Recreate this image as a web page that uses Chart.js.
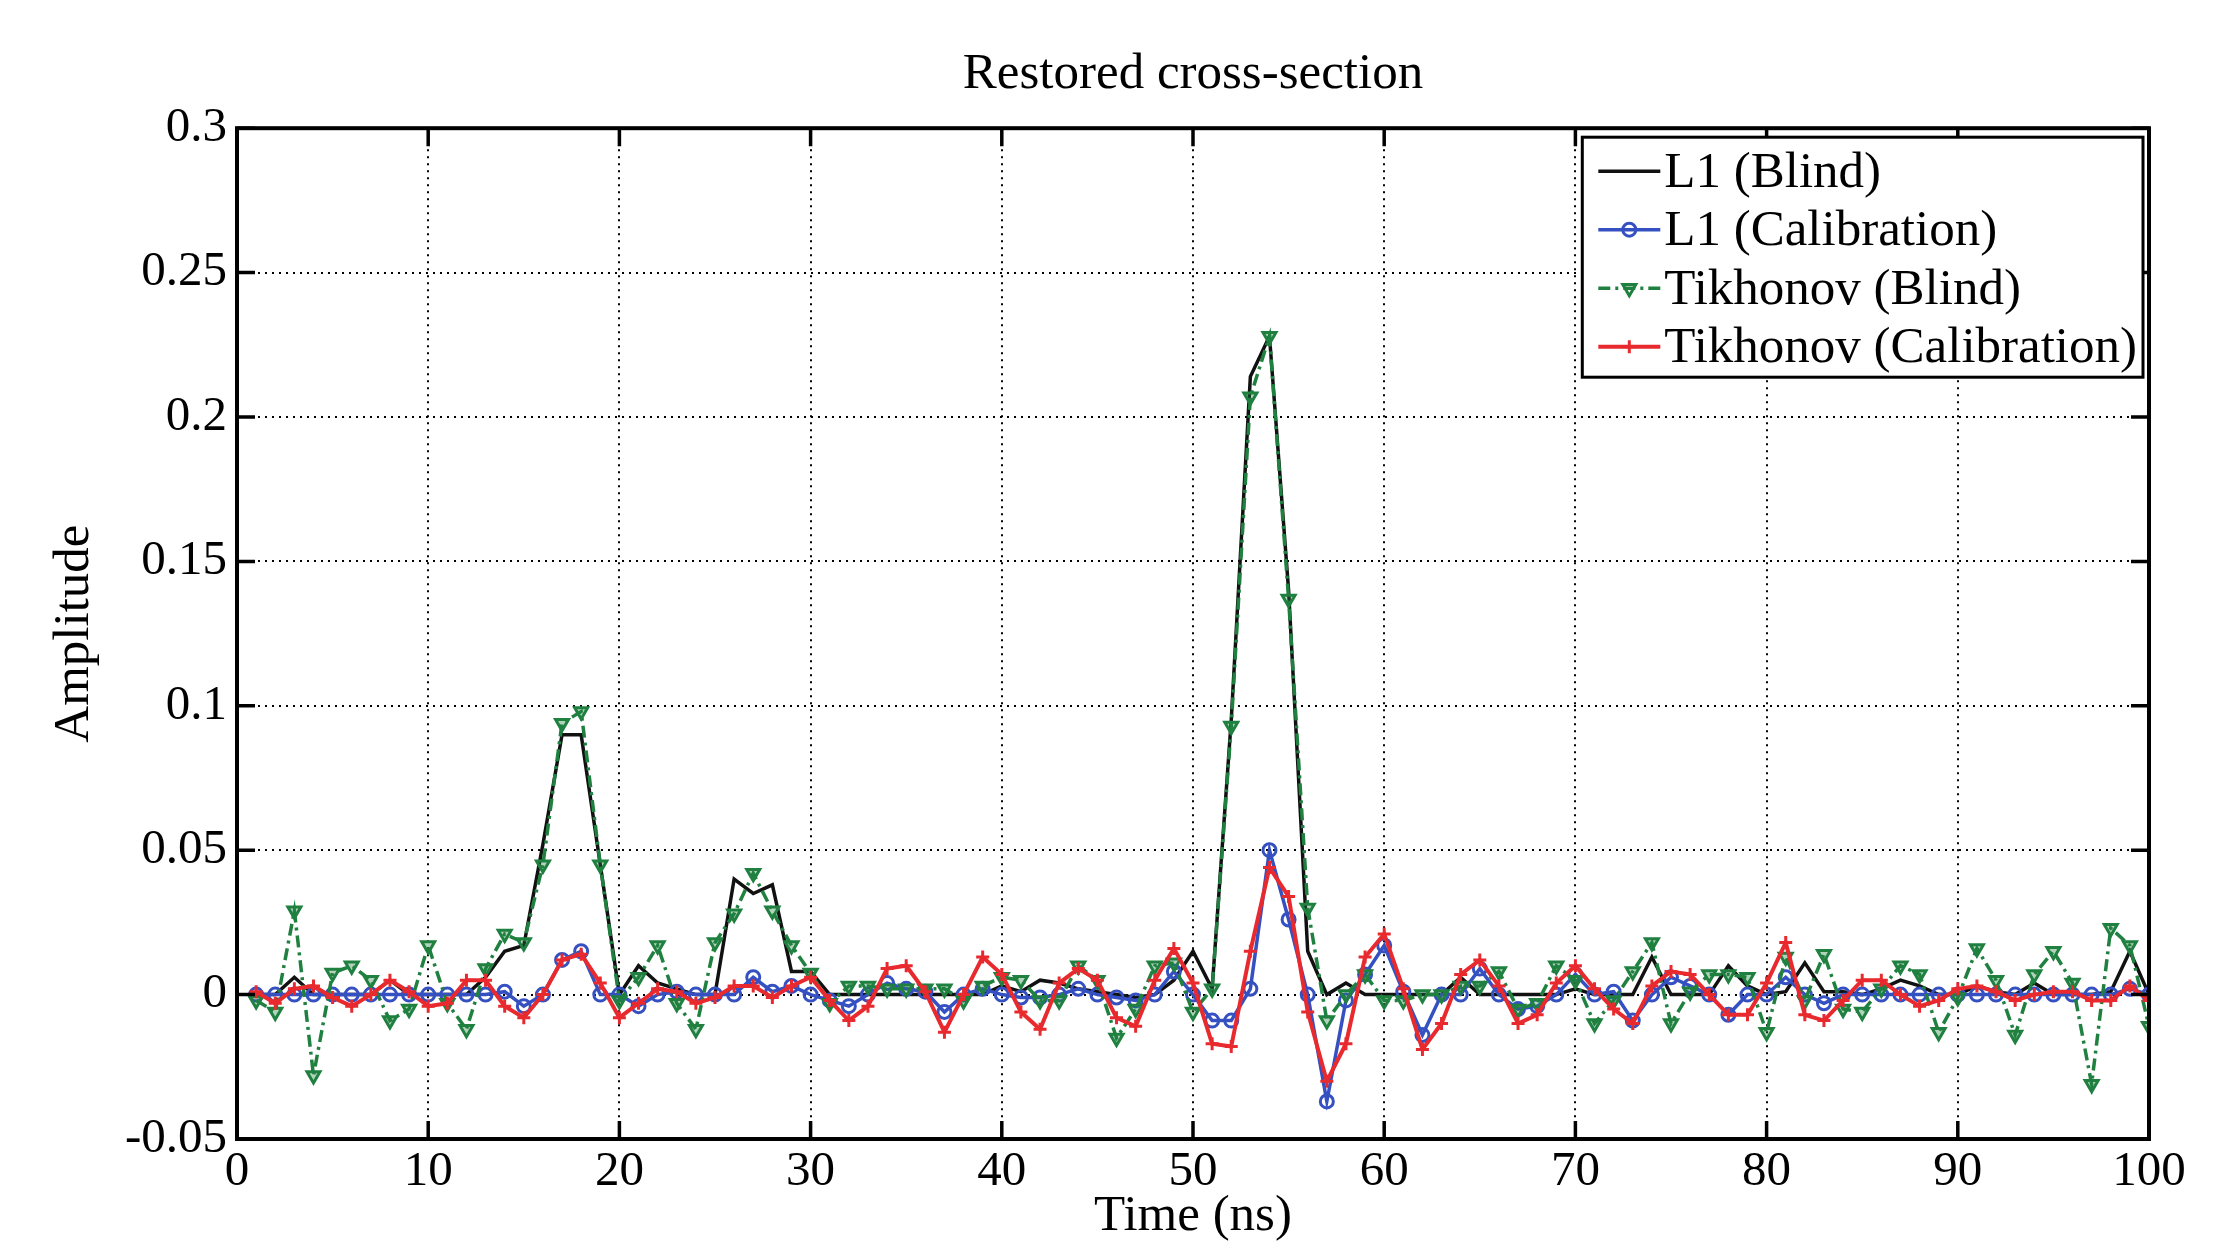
<!DOCTYPE html>
<html>
<head>
<meta charset="utf-8">
<title>Restored cross-section</title>
<script src="https://cdn.jsdelivr.net/npm/chart.js@4.4.0/dist/chart.umd.min.js"></script>
<style>
  html, body { margin: 0; padding: 0; background: #fff; }
  #wrap { width: 2233px; height: 1242px; }
</style>
</head>
<body>
<div id="wrap"><canvas id="chart" width="2233" height="1242"></canvas></div>
<script>
// time axis (ns), one sample per ns
const times = [1,2,3,4,5,6,7,8,9,10,11,12,13,14,15,16,17,18,19,20,
    21,22,23,24,25,26,27,28,29,30,31,32,33,34,35,36,37,38,39,40,
    41,42,43,44,45,46,47,48,49,50,51,52,53,54,55,56,57,58,59,60,
    61,62,63,64,65,66,67,68,69,70,71,72,73,74,75,76,77,78,79,80,
    81,82,83,84,85,86,87,88,89,90,91,92,93,94,95,96,97,98,99,100];

const l1Blind = [0,0,0.006,0,0,0,0,0.005,0,0,
    0,0,0.006,0.015,0.017,0.052,0.090,0.090,0.045,0,
    0.010,0.004,0.002,0,0,0.040,0.035,0.038,0.008,0.008,
    0,0,0,0,0,0,0,0,0,0.003,
    0.001,0.005,0.004,0.002,0.001,0,-0.001,0,0.005,0.015,
    0.002,0.095,0.214,0.228,0.140,0.015,0,0.004,0,0,
    0,0,0,0.006,0,0,0,0,0,0.002,
    0,0,0,0.013,0,0,0,0.010,0.003,0,
    0.001,0.011,0.001,0.001,0,0.002,0.005,0.003,0,0,
    0.003,0.001,0,0.004,0,0,0,0.001,0.015,0];

const l1Calib = [0,0,0,0,0,0,0,0,0,0,
    0,0,0,0.001,-0.004,0,0.012,0.015,0,0,
    -0.004,0,0.001,0,0,0,0.006,0.001,0.003,0,
    -0.002,-0.004,0,0.004,0.002,0.001,-0.006,0,0.002,0,
    -0.001,-0.001,0,0.002,0,-0.001,-0.002,0,0.008,0,
    -0.009,-0.009,0.002,0.050,0.026,0,-0.037,-0.002,0.007,0.017,
    0.001,-0.014,0,0,0.009,0,-0.005,-0.004,0,0.007,
    0,0.001,-0.009,0,0.006,0.003,0,-0.007,0,0,
    0.006,0,-0.003,0,0,0,0,0,0,0,
    0,0,0,0,0,0,0,0,0.002,0];

const tikBlind = [-0.002,-0.006,0.029,-0.028,0.0075,0.010,0.005,-0.009,-0.005,0.017,
    -0.003,-0.012,0.009,0.021,0.018,0.045,0.094,0.098,0.045,-0.002,
    0.006,0.017,-0.003,-0.012,0.018,0.028,0.042,0.029,0.017,0.0075,
    -0.003,0.003,0.003,0.002,0.002,0.002,0.002,-0.002,0.003,0.006,
    0.005,-0.002,-0.002,0.010,0.005,-0.015,-0.005,0.010,0.011,-0.006,
    0.002,0.093,0.207,0.228,0.137,0.030,-0.009,0,0.007,-0.002,
    -0.002,0,0,0.003,0.003,0.008,-0.005,-0.003,0.010,0.005,
    -0.010,-0.002,0.008,0.018,-0.010,0.001,0.007,0.007,0.006,-0.013,
    0.013,-0.002,0.014,-0.005,-0.006,0.002,0.010,0.007,-0.013,-0.001,
    0.016,0.005,-0.014,0.007,0.015,0.004,-0.031,0.023,0.017,-0.011];

const tikCalib = [0.001,-0.003,0.002,0.003,-0.001,-0.004,0,0.005,0.001,-0.004,
    -0.003,0.005,0.005,-0.004,-0.008,0,0.012,0.014,0.004,-0.008,
    -0.003,0.002,0.001,-0.003,-0.001,0.003,0.003,-0.001,0.003,0.006,
    -0.002,-0.009,-0.004,0.009,0.010,0.001,-0.013,0,0.013,0.007,
    -0.006,-0.012,0.004,0.009,0.005,-0.008,-0.011,0.005,0.016,0.004,
    -0.017,-0.018,0.015,0.044,0.034,-0.006,-0.030,-0.017,0.013,0.021,
    0.002,-0.019,-0.010,0.007,0.012,0.003,-0.010,-0.007,0.004,0.010,
    0.002,-0.005,-0.010,0.003,0.008,0.007,0,-0.007,-0.007,0.004,
    0.018,-0.007,-0.009,-0.002,0.005,0.005,0,-0.004,-0.002,0.002,
    0.003,0.001,-0.002,0,0.001,0.001,-0.002,-0.002,0.003,-0.002];

const xTickValues = [0,10,20,30,40,50,60,70,80,90,100];
const xTickLabels = ['0','10','20','30','40','50','60','70','80','90','100'];
const yTickValues = [-0.05,0,0.05,0.1,0.15,0.2,0.25,0.3];
const yTickLabels = ['-0.05','0','0.05','0.1','0.15','0.2','0.25','0.3'];

const FONT = '"Liberation Serif", "Times New Roman", serif';

function toPoints(values) {
    return values.map((v, i) => ({ x: times[i], y: v }));
}

// box round the axes plus the little inward tick marks matlab draws on every side
const frameTicks = {
    id: 'frameTicks',
    afterDraw(chart) {
        const { ctx, chartArea: a, scales } = chart;
        const len = 18;
        ctx.save();
        ctx.strokeStyle = '#000';
        ctx.lineWidth = 3.5;
        ctx.beginPath();
        scales.x.ticks.forEach(t => {
            const px = scales.x.getPixelForValue(t.value);
            ctx.moveTo(px, a.bottom); ctx.lineTo(px, a.bottom - len);
            ctx.moveTo(px, a.top); ctx.lineTo(px, a.top + len);
        });
        scales.y.ticks.forEach(t => {
            const py = scales.y.getPixelForValue(t.value);
            ctx.moveTo(a.left, py); ctx.lineTo(a.left + len, py);
            ctx.moveTo(a.right, py); ctx.lineTo(a.right - len, py);
        });
        ctx.stroke();
        ctx.lineWidth = 4;
        ctx.strokeRect(a.left, a.top, a.right - a.left, a.bottom - a.top);
        ctx.restore();
    }
};

function drawMarker(ctx, style, x, y, r, rot) {
    ctx.beginPath();
    if (style === 'circle') {
        ctx.arc(x, y, r, 0, Math.PI * 2);
    } else if (style === 'triangle') {
        const s = rot === 180 ? 1 : -1;
        ctx.moveTo(x, y + s * r);
        ctx.lineTo(x - r * 0.87, y - s * r * 0.5);
        ctx.lineTo(x + r * 0.87, y - s * r * 0.5);
        ctx.closePath();
    } else if (style === 'cross') {
        ctx.moveTo(x - r, y); ctx.lineTo(x + r, y);
        ctx.moveTo(x, y - r); ctx.lineTo(x, y + r);
    }
    ctx.stroke();
}

const boxLegend = {
    id: 'boxLegend',
    afterDraw(chart) {
        const { ctx, chartArea: a } = chart;
        const sets = chart.data.datasets;
        const fontSize = 51;
        const rowH = 58.5;
        ctx.save();
        ctx.font = fontSize + 'px ' + FONT;
        let textW = 0;
        sets.forEach(ds => { textW = Math.max(textW, ctx.measureText(ds.label).width); });
        const sample = 62;
        const w = 16 + sample + 4 + textW + 6;
        const h = rowH * sets.length + 6;
        const right = a.right - 6;
        const left = right - w;
        const top = a.top + 9;
        ctx.fillStyle = '#fff';
        ctx.fillRect(left, top, w, h);
        ctx.strokeStyle = '#000';
        ctx.lineWidth = 3;
        ctx.strokeRect(left, top, w, h);
        sets.forEach((ds, i) => {
            const cy = top + 34 + i * rowH;
            const x1 = left + 16, x2 = x1 + sample;
            ctx.strokeStyle = ds.borderColor;
            ctx.lineWidth = ds.borderWidth;
            ctx.setLineDash(ds.borderDash || []);
            ctx.beginPath();
            ctx.moveTo(x1, cy); ctx.lineTo(x2, cy);
            ctx.stroke();
            ctx.setLineDash([]);
            if (ds.pointRadius > 0) {
                ctx.lineWidth = ds.pointBorderWidth;
                drawMarker(ctx, ds.pointStyle, (x1 + x2) / 2, cy, ds.pointRadius, ds.pointRotation);
            }
            ctx.fillStyle = '#000';
            ctx.textBaseline = 'middle';
            ctx.textAlign = 'left';
            ctx.fillText(ds.label, x2 + 4, cy + 2);
        });
        ctx.restore();
    }
};

const ctx = document.getElementById('chart');

new Chart(ctx, {
    type: 'line',
    data: {
        datasets: [
            {
                label: 'L1 (Blind)',
                data: toPoints(l1Blind),
                borderColor: '#111111',
                borderWidth: 3.5,
                pointRadius: 0,
                order: 3,
            },
            {
                label: 'L1 (Calibration)',
                data: toPoints(l1Calib),
                borderColor: '#3550c0',
                borderWidth: 3.5,
                pointStyle: 'circle',
                pointRadius: 6.5,
                pointBorderWidth: 3,
                pointBackgroundColor: 'rgba(255,255,255,0)',
                pointBorderColor: '#3550c0',
                order: 2,
            },
            {
                label: 'Tikhonov (Blind)',
                data: toPoints(tikBlind),
                borderColor: '#1f8040',
                borderWidth: 3.5,
                borderDash: [12, 5, 3, 5],
                pointStyle: 'triangle',
                pointRotation: 180,
                pointRadius: 7.5,
                pointBorderWidth: 3,
                pointBackgroundColor: 'rgba(31,128,64,0.35)',
                pointBorderColor: '#1f8040',
                order: 1,
            },
            {
                label: 'Tikhonov (Calibration)',
                data: toPoints(tikCalib),
                borderColor: '#e82a2e',
                borderWidth: 4,
                pointStyle: 'cross',
                pointRadius: 6.5,
                pointBorderWidth: 3,
                pointBorderColor: '#e82a2e',
                order: 0,
            },
        ]
    },
    options: {
        responsive: false,
        animation: false,
        devicePixelRatio: 1,
        layout: { padding: { left: 0, right: 84, top: 0, bottom: 0 } },
        elements: { line: { tension: 0 } },
        plugins: {
            legend: { display: false },
            tooltip: { enabled: false },
            title: {
                display: true,
                fullSize: false, // centre over the axes, not the canvas
                text: 'Restored cross-section',
                color: '#000',
                font: { family: FONT, size: 51, weight: 'normal', lineHeight: 1.2 },
                padding: { top: 44, bottom: 23 },
            },
        },
        scales: {
            x: {
                type: 'linear',
                min: 0,
                max: 100,
                afterFit: (s) => { s.height = 103; },
                afterBuildTicks: (s) => { s.ticks = xTickValues.map(v => ({ value: v })); },
                ticks: {
                    color: '#000',
                    padding: 4,
                    maxRotation: 0,
                    autoSkip: false,
                    font: { family: FONT, size: 49, lineHeight: 1.2 },
                    callback: (v, i) => xTickLabels[i],
                },
                grid: { color: '#000', lineWidth: 2, drawTicks: false },
                border: { display: false, dash: [2, 5] },
                title: {
                    display: true,
                    text: 'Time (ns)',
                    color: '#000',
                    font: { family: FONT, size: 51, lineHeight: 1 },
                    padding: { top: 0, bottom: 0 },
                },
            },
            y: {
                type: 'linear',
                min: -0.05,
                max: 0.3,
                afterFit: (s) => { s.width = 237; },
                afterBuildTicks: (s) => { s.ticks = yTickValues.map(v => ({ value: v })); },
                ticks: {
                    color: '#000',
                    padding: 10,
                    autoSkip: false,
                    font: { family: FONT, size: 49, lineHeight: 1.2 },
                    callback: (v, i) => yTickLabels[i],
                },
                grid: { color: '#000', lineWidth: 2, drawTicks: false },
                border: { display: false, dash: [2, 5] },
                title: {
                    display: true,
                    text: 'Amplitude',
                    color: '#000',
                    font: { family: FONT, size: 51, lineHeight: 1 },
                    padding: { top: 49, bottom: 0 },
                },
            },
        },
    },
    plugins: [frameTicks, boxLegend],
});
</script>
</body>
</html>
